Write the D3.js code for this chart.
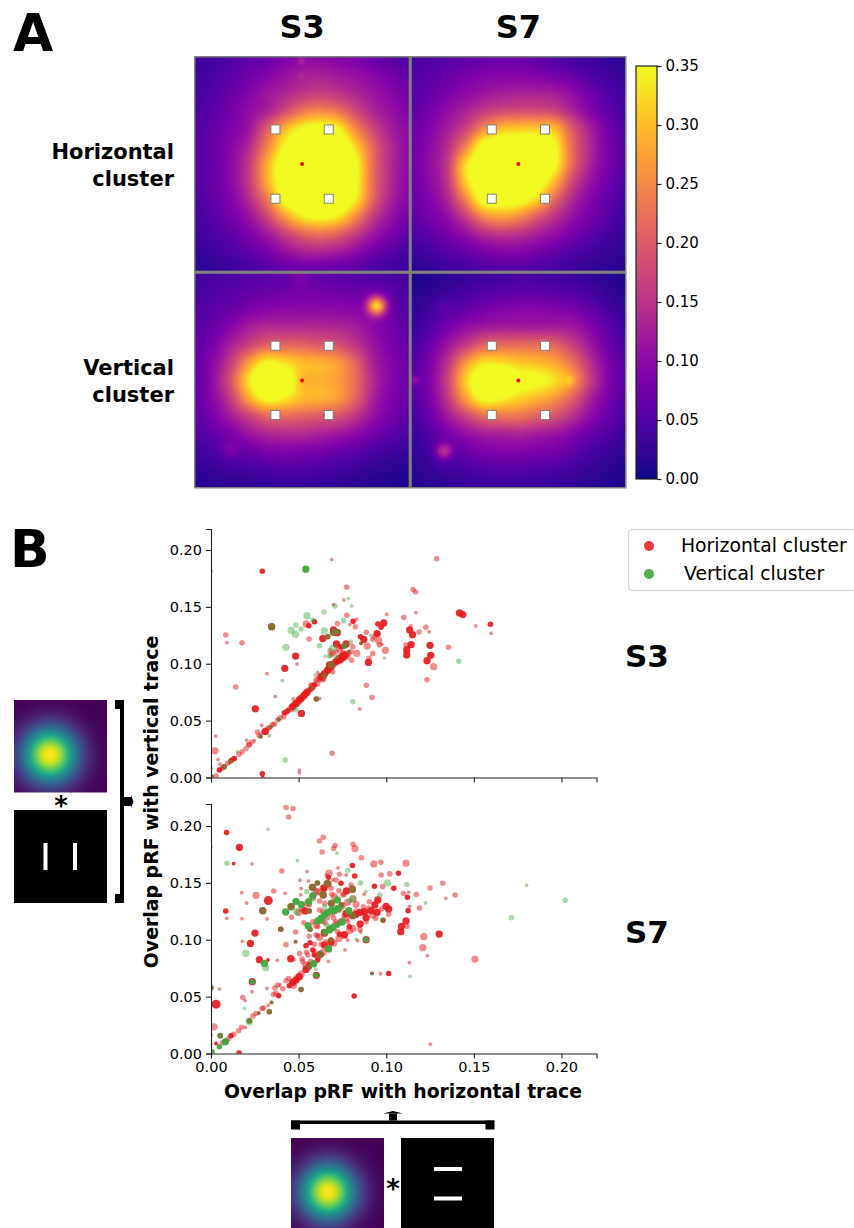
<!DOCTYPE html>
<html lang="en">
<head>
<meta charset="UTF-8">
<title>Overlap maps</title>
<style>
    body, html { margin: 0; background: #fff; overflow: hidden; }
    text { font-family: "DejaVu Sans", sans-serif; fill: #000; }
</style>
</head>
<body>
<script src="https://d3js.org/d3.v7.min.js"></script>
<script>
// overlap maps, 13x13 values, top row first
const mapS3Horizontal = [
  [.030,.036,.046,.06,.07,.085,.10,.10,.095,.085,.07,.055,.045],
  [.036,.045,.058,.075,.09,.11,.125,.13,.12,.11,.095,.08,.065],
  [.04,.052,.07,.09,.115,.135,.155,.165,.155,.135,.115,.095,.08],
  [.045,.06,.08,.105,.13,.18,.23,.25,.23,.18,.135,.11,.09],
  [.05,.065,.088,.115,.20,.29,.35,.37,.35,.25,.175,.125,.10],
  [.05,.07,.095,.14,.24,.35,.40,.42,.41,.32,.21,.14,.105],
  [.05,.07,.10,.16,.28,.39,.43,.44,.43,.36,.22,.14,.105],
  [.05,.07,.10,.16,.28,.39,.43,.44,.43,.36,.22,.14,.10],
  [.045,.065,.09,.14,.23,.36,.41,.42,.41,.34,.21,.13,.095],
  [.04,.055,.08,.11,.17,.26,.33,.35,.33,.25,.16,.11,.08],
  [.035,.045,.06,.085,.115,.16,.20,.22,.20,.16,.115,.085,.06],
  [.022,.032,.045,.06,.08,.105,.125,.13,.12,.10,.075,.055,.04],
  [.014,.022,.03,.04,.05,.06,.065,.065,.06,.055,.045,.035,.028]
];
const mapS7Horizontal = [
  [.04,.045,.052,.06,.065,.07,.07,.06,.05,.04,.03,.022,.018],
  [.05,.057,.068,.08,.09,.095,.095,.09,.08,.07,.05,.035,.025],
  [.055,.065,.085,.10,.115,.125,.13,.13,.125,.105,.075,.05,.035],
  [.06,.08,.105,.13,.16,.18,.185,.185,.175,.135,.095,.065,.04],
  [.07,.09,.125,.17,.25,.30,.31,.31,.30,.20,.13,.08,.05],
  [.075,.10,.145,.24,.37,.40,.40,.40,.36,.22,.14,.085,.055],
  [.08,.105,.16,.32,.40,.42,.42,.41,.36,.22,.135,.085,.055],
  [.075,.10,.155,.31,.40,.42,.42,.39,.30,.18,.115,.075,.05],
  [.07,.09,.135,.24,.37,.38,.37,.32,.22,.14,.095,.065,.04],
  [.06,.08,.105,.16,.24,.27,.25,.20,.15,.11,.08,.055,.035],
  [.045,.06,.08,.105,.135,.15,.145,.125,.105,.08,.06,.04,.028],
  [.028,.04,.052,.065,.08,.09,.09,.08,.065,.05,.038,.028,.02],
  [.016,.022,.03,.036,.045,.05,.05,.045,.04,.03,.022,.018,.014]
];
const mapS3Vertical = [
  [.035,.04,.045,.05,.055,.06,.065,.06,.055,.05,.045,.04,.035],
  [.04,.048,.055,.062,.07,.075,.08,.08,.075,.07,.07,.06,.045],
  [.048,.058,.07,.085,.095,.10,.10,.10,.10,.095,.085,.07,.05],
  [.055,.07,.095,.125,.14,.14,.14,.14,.135,.125,.10,.08,.06],
  [.06,.085,.13,.17,.21,.215,.21,.20,.19,.155,.115,.085,.065],
  [.065,.10,.165,.27,.35,.33,.30,.29,.27,.21,.13,.095,.07],
  [.065,.105,.195,.33,.44,.40,.30,.29,.27,.22,.14,.095,.075],
  [.065,.10,.165,.28,.36,.34,.30,.29,.27,.21,.13,.09,.07],
  [.06,.085,.125,.17,.215,.22,.21,.20,.19,.155,.11,.08,.06],
  [.05,.065,.085,.115,.135,.14,.14,.13,.12,.10,.08,.06,.045],
  [.035,.045,.055,.07,.085,.09,.085,.08,.07,.06,.045,.035,.028],
  [.02,.028,.035,.04,.045,.05,.05,.045,.04,.032,.024,.018,.014],
  [.012,.016,.018,.02,.022,.024,.024,.022,.02,.016,.012,.01,.009]
];
const mapS7Vertical = [
  [.008,.012,.018,.024,.03,.036,.04,.04,.035,.03,.022,.015,.01],
  [.012,.02,.03,.04,.05,.055,.06,.06,.055,.05,.04,.025,.015],
  [.02,.035,.05,.065,.08,.09,.095,.095,.09,.085,.065,.04,.025],
  [.03,.05,.08,.105,.12,.125,.125,.125,.125,.12,.095,.06,.035],
  [.04,.07,.115,.16,.21,.22,.22,.22,.21,.17,.12,.075,.045],
  [.05,.085,.15,.26,.33,.33,.31,.30,.28,.23,.15,.09,.055],
  [.055,.09,.17,.31,.40,.43,.37,.36,.33,.27,.17,.095,.06],
  [.05,.085,.155,.27,.36,.35,.32,.295,.265,.21,.135,.085,.05],
  [.04,.07,.12,.17,.22,.23,.23,.21,.19,.15,.105,.07,.042],
  [.03,.05,.08,.105,.125,.13,.135,.125,.115,.095,.07,.05,.03],
  [.022,.035,.05,.07,.085,.09,.09,.085,.08,.065,.045,.032,.02],
  [.016,.025,.035,.042,.05,.055,.055,.05,.045,.038,.028,.018,.012],
  [.012,.016,.02,.026,.03,.03,.03,.03,.026,.022,.016,.012,.01]
];
// small isolated spots the coarse grid can't hold: col, row, height, width (grid units)
const spotsS3Horizontal = [[5.96,.2,.03,.14],[5.96,1,.015,.14]];
const spotsS7Horizontal = [];
const spotsS3Vertical = [[10.2,1.8,.24,.36],[1.95,9.9,.03,.35],[5.96,.2,.02,.3]];
const spotsS7Vertical = [[1.8,10,.10,.34],[.15,6,.05,.2],[1.8,1.8,.015,.3],[8.9,6,.03,.2]];

const colorbarTicks = [0, .05, .10, .15, .20, .25, .30, .35];
// stimulus squares and fixation, in degrees from the map centre
const stimulusX = [-2, 2];
const stimulusY = [-2.6, 2.6];

// scatter points: x overlap, y overlap, size class 1-4
const s3RedStrong = [[.0293,.1813,2],[.0253,.0604,3],[.0483,.1068,3],[.0421,.0960,3],[.0516,.0563,3],[.0310,.0405,3],[.0558,.1335,2],[.0590,.1370,2],[.0638,.1221,3],[.0811,.1373,2],[.0721,.1273,3],[.0699,.1297,3],[.0716,.1174,3],[.0971,.1320,2],[.0948,.1265,3],[.0986,.1359,3],[.0952,.1350,2],[.0853,.1238,2],[.0872,.1215,3],[.1134,.1297,3],[.1150,.1256,3],[.1142,.1168,3],[.1117,.1121,3],[.1117,.1077,3],[.1250,.1162,3],[.1254,.1074,3],[.1233,.1027,3],[.0898,.1012,3],[.1418,.1447,3],[.1437,.1432,3],[.1595,.1347,2],[.0293,.0032,2],[.0295,0,1],[.0048,.0065,2],[.0114,.0147,2],[.0133,.0167,2],[.0285,.0358,1],[.0419,.0569,2],[.0438,.0587,2],[.0466,.0622,3],[.0485,.0651,3],[.0504,.0681,3],[.0514,.0695,3],[.0533,.0725,3],[.0546,.0745,3],[.0571,.0778,2],[.0590,.0813,2],[.0628,.0886,3],[.0647,.0910,3],[.0666,.0945,3],[.0685,.0974,3],[.0714,.1018,3],[.0733,.1039,4],[.0752,.1062,4],[.0767,.1077,3],[.0742,.1150,2],[.0771,.1174,3],[.0676,.0989,3]];
const s3RedPale = [[0,.1813,1],[.0689,.1916,1],[.1287,.1922,2],[.0775,.1673,2],[.1153,.1652,2],[.1167,.1631,2],[.0699,.1520,1],[.0758,.1561,1],[.1003,.1435,1],[.1100,.1406,2],[.1169,.1450,1],[.1511,.1332,1],[.1599,.1268,1],[.0830,.1391,1],[.0775,.1426,2],[.0721,.1353,2],[.0544,.1350,3],[.0792,.1344,1],[.0824,.1326,2],[.0887,.1276,2],[.1140,.1335,1],[.1188,.1279,2],[.1226,.1320,2],[.1245,.1282,1],[.0084,.1253,2],[.0091,.1185,1],[.0177,.1185,2],[.0560,.1218,2],[.0923,.1215,2],[.0957,.1203,3],[.0975,.1171,1],[.0891,.1156,3],[.0995,.1118,3],[.0832,.1092,3],[.0923,.1089,2],[.0902,.1048,2],[.0803,.1030,2],[.1355,.1144,2],[.1271,.0974,3],[.1233,.0860,2],[.0491,.0998,1],[.0320,.0913,1],[.0141,.0795,2],[.0367,.0713,1],[.0887,.0810,2],[.0919,.0704,2],[.0849,.0602,1],[.0470,.0690,1],[.0289,.0458,1],[.0027,.0364,1],[.0204,.0329,1],[.0266,.0399,2],[.0023,.0235,3],[.0040,.0158,1],[.0051,.0117,1],[.0691,.0214,2],[.0504,.0065,1],[.0504,.0041,1],[0,.0079,1],[0,.0021,1],[.0029,.0012,2],[.0620,.0695,1],[.0600,.0857,2],[.0609,.0921,1],[.0571,.0813,2],[.0638,.0857,2],[.0695,.0930,2],[.0219,.0285,2],[.0200,.0255,2],[.0177,.0226,2],[.0247,.0323,1],[.0333,.0440,2],[.0362,.0469,2],[.0381,.0505,2],[.0415,.0534,2],[.0105,.0129,1],[.0067,.0088,1],[.0561,.0769,2],[.0685,.1077,2],[.0714,.1106,2],[.0809,.1150,2],[.0799,.1106,2],[.0780,.1062,2],[.0695,.1092,2],[.0961,.1165,2],[.0933,.1238,2],[.1113,.1165,2]];
const s3RedRidge = [[.0062,.0082,2],[.0095,.0125,2],[.0125,.0160,2],[.0160,.0205,2],[.0215,.0290,2],[.0232,.0312,2],[.0275,.0370,2],[.0300,.0395,2],[.0325,.0430,2],[.0352,.0468,2],[.0395,.0525,2],[.0430,.0570,2],[.0455,.0605,3],[.0478,.0640,3],[.0498,.0665,3],[.0525,.0710,3],[.0555,.0760,3],[.0580,.0800,3],[.0605,.0830,3],[.0618,.0870,3],[.0640,.0880,3],[.0655,.0925,3],[.0675,.0960,3],[.0695,.0990,3],[.0725,.1030,3],[.0745,.1045,3],[.0705,.1010,3],[.0755,.1090,3],[.0735,.1130,3],[.0680,.1115,2],[.0785,.1090,2]];
const s3Both = [[.0346,.1326,3],[.0601,.0690,2],[.0699,.1276,3],[.0723,.1282,2],[.0666,.1238,2],[.0856,.1180,1],[.0761,.1156,2],[.0786,.1106,1],[.0647,.0892,2],[.0685,.0989,3],[.0581,.0783,1],[.0386,.0511,1],[.0343,.0446,1],[.0282,.0364,1],[.0114,.0141,1],[.0076,.0094,2],[0,.0006,2]];
const s3GreenPale = [[.0784,.1573,1],[.0803,.1508,1],[.0708,.1508,2],[.0645,.1455,2],[.0548,.1423,3],[.0581,.1385,2],[.0756,.1379,2],[.0485,.1341,2],[.0457,.1294,3],[.0482,.1259,3],[.0514,.1306,2],[.0647,.1288,3],[.0428,.1144,3],[.0619,.1159,2],[.0695,.1136,3],[.0796,.1188,2],[.0761,.1162,2],[.0676,.1068,2],[.0651,.1065,1],[.0594,.0901,1],[.0407,.0851,1],[.0809,.0666,2],[.0485,.0593,2],[.0333,.0367,1],[.0150,.0226,1],[.0424,.0153,2],[.0990,.1050,1],[.1414,.1021,2],[.0912,.1250,1],[.0714,.1062,2]];
const s3GreenStrong = [[.0541,.1831,3]];

const s7RedStrong = [[.0089,.1942,2],[.0162,.1813,3],[.0129,.1670,1],[.0807,.1652,2],[.0820,.1561,2],[.0327,.1344,4],[.0084,.1253,2],[.0742,.1496,2],[.0645,.1455,3],[.0670,.1549,2],[.0773,.1429,3],[.0933,.1470,2],[.1043,.1452,2],[.1070,.1585,2],[.1121,.1373,2],[.1125,.1256,2],[.0251,.1059,3],[.0225,.0968,3],[.0276,.0825,3],[.0325,.0822,1],[.0455,.0833,3],[.1302,.1050,3],[.1014,.0704,2],[.0817,.0505,2],[.0029,.0434,4],[.1087,.1118,3],[.1113,.1165,3],[.1083,.1071,3],[.0999,.1294,3],[.1014,.1271,3],[.0952,.1350,3],[.0935,.1306,3],[.0948,.1241,3],[.0914,.1256,3],[.0876,.1247,3],[.0851,.1241,3],[.0828,.1224,3],[.0885,.1194,3],[.0851,.1138,3],[.0771,.1232,3],[.0761,.1042,3],[.0733,.1048,2],[.0790,.1115,2],[.0537,.1253,3],[.0386,.0508,2],[.0162,0,2],[.0029,.0088,1],[.0114,.0156,2],[.0086,.0109,2],[.0485,.0646,3],[.0466,.0625,3],[.0504,.0675,3],[.0447,.0596,2],[.0542,.0739,3],[.0561,.0778,2],[.0609,.0822,2],[.0628,.0871,2],[.0590,.0866,2],[.0581,.0910,2],[.0542,.0948,2],[.0565,.0974,2],[.0685,.0983,3],[.0647,.0954,3],[.0590,.0792,2],[.0885,.1001,3],[.0601,.0687,3],[.0236,.0631,3],[.0333,.0367,2]];
const s7RedPale = [[.0428,.2163,2],[.0468,.2154,2],[.0443,.2080,2],[.0641,.1901,2],[.0619,.1869,2],[.0708,.1828,2],[.0700,.1802,2],[.0634,.1772,2],[.0811,.1840,2],[.0822,.1802,3],[.0858,.1720,2],[.0929,.1667,3],[.0969,.1681,2],[.1113,.1673,3],[.0234,.1667,1],[.0404,.1605,2],[.0548,.1599,1],[.0508,.1523,1],[.0556,.1517,1],[.0674,.1585,3],[.0733,.1576,2],[.0771,.1570,1],[.1020,.1579,2],[.0971,.1570,2],[.0175,.1414,1],[.0257,.1391,3],[.0358,.1429,2],[.0423,.1408,1],[.0204,.1323,1],[.0514,.1450,1],[.0512,.1394,1],[.0091,.1188,1],[.0177,.1185,1],[.0320,.1183,1],[.0459,.1197,2],[.0483,.1068,2],[.0179,.0986,1],[.0428,.0957,2],[.0379,.0819,1],[.0476,.0825,1],[.0320,.0572,1],[.0234,.0543,1],[.0048,.0566,1],[.0181,.0493,2],[.0194,.0467,1],[.0017,.0235,3],[0,.0161,1],[.0158,.0200,2],[.0196,.0229,1],[.0219,.0293,2],[.0257,.0352,2],[.0291,.0396,2],[.0327,.0425,1],[.0356,.0519,2],[.0381,.0602,2],[.0394,.0602,1],[.0365,.0578,2],[.0428,.0640,2],[.0443,.0660,2],[.1323,.1496,2],[.1250,.1455,2],[.1393,.1394,2],[.1172,.1397,2],[.1340,.1364,1],[.1098,.1406,2],[.1129,.1417,1],[.1190,.1279,2],[.1134,.1294,1],[.1214,.1027,3],[.1209,.0930,3],[.1235,.0860,1],[.1132,.0798,1],[.1506,.0830,3],[.1252,.0082,1],[.0967,.0701,1],[.0765,.0910,1],[.0670,.0810,1],[.0855,.1068,1],[.0837,.0992,1],[.0780,.0998,1],[.1014,.1224,2],[.0980,.1467,2],[.0874,.1400,1],[.0647,.1056,3],[.0609,.1036,2],[.0628,.0960,2],[.0657,.0983,2],[.0609,.1115,2],[.0600,.1042,2],[.0723,.1071,2],[.0704,.1379,3],[.0752,.1394,2],[.0828,.1312,3],[.0904,.1335,2],[.0885,.1159,2],[.0923,.1218,3],[.0714,.1159,2],[.0733,.1262,2],[.0780,.1159,2],[.0799,.1482,2],[.0685,.1452,2],[.0714,.1526,2],[.0600,.1423,3],[.0561,.1306,2],[.0638,.1247,2],[.0581,.1159,2],[.0619,.1262,2],[.0542,.0778,3],[.0523,.0807,2],[.0552,.0866,2],[.0590,.0895,2],[.0676,.0910,2],[.0695,.1526,1],[.0725,.1631,1],[.0657,.1570,1],[.1119,.1118,2],[.0158,.0009,2]];
const s7RedRidge = [[.0065,.0095,2],[.0100,.0130,2],[.0130,.0170,2],[.0175,.0230,2],[.0240,.0330,2],[.0300,.0400,2],[.0370,.0530,2],[.0410,.0570,2],[.0470,.0600,3],[.0490,.0660,3],[.0515,.0700,3],[.0555,.0760,3],[.0570,.0800,3],[.0610,.0850,3],[.0640,.0890,3],[.0670,.0930,3],[.0700,.0970,3],[.0730,.1010,3],[.0760,.1045,3],[.0790,.1080,3],[.0810,.1100,3],[.0620,.1020,3],[.0650,.1060,3],[.0680,.1100,3],[.0710,.1130,3],[.0740,.1160,3],[.0770,.1190,3],[.0800,.1220,3],[.0830,.1245,3],[.0600,.1130,3],[.0630,.1170,3],[.0660,.1200,3],[.0690,.1235,3],[.0720,.1270,3],[.0750,.1300,3],[.0780,.1330,3],[.0810,.1360,3],[.0500,.1240,3],[.0520,.1270,3],[.0550,.1320,3],[.0580,.1370,3],[.0610,.1420,3],[.0640,.1450,3],[.0670,.1490,3],[.0530,.1150,2],[.0560,.1030,2],[.0590,.0960,2],[.0545,.0890,2],[.0505,.0880,2],[.0520,.0830,2],[.0870,.1290,2],[.0900,.1280,2],[.0940,.1190,2],[.0975,.1270,2],[.0850,.1090,2],[.0760,.1400,2],[.0730,.1430,2],[.0690,.1400,2],[.0650,.1320,2],[.0620,.1340,2],[.0700,.1190,2],[.0760,.1210,2],[.0650,.1150,2]];
const s7Both = [[.0295,.1256,3],[.0457,.1291,3],[.0579,.1461,3],[.0640,.1394,3],[.0664,.1494,3],[.0807,.1444,3],[.0607,.1499,2],[.0687,.1320,3],[.0565,.1092,2],[.0744,.1306,2],[.0809,.1212,3],[.0982,.1171,2],[.0398,.1092,2],[.0483,.0983,1],[.0919,.0704,1],[.0514,.0563,2],[.0272,.0355,1],[.0346,.0449,1],[.0053,.0156,2],[0,.0578,2],[.0561,.1253,2],[.0647,.1065,3],[.0685,.0998,2],[.0622,.0871,3],[.0561,.0763,2],[.0219,.0285,2]];
const s7GreenPale = [[0,.1813,1],[.0325,.1972,1],[.0091,.1673,2],[.0493,.1696,1],[.0719,.1761,1],[.0782,.1611,2],[.0853,.1499,2],[.1007,.1499,3],[.1117,.1485,2],[.0546,.1423,2],[.0883,.1423,1],[.1224,.1323,1],[.0963,.1394,2],[.1801,.1479,1],[.2021,.1347,2],[.1715,.1194,2],[.0489,.1247,3],[.0647,.1291,2],[.0809,.1359,3],[.0790,.1341,2],[.0695,.1247,2],[.0198,.0880,3],[.0312,.0754,3],[.0598,.0742,1],[.0830,.1004,1],[.1136,.0678,1],[.0190,.0396,1],[.0219,.0279,3],[.0051,.0161,2],[0,.0088,1],[.0742,.1276,2],[.0628,.1174,3],[.0660,.1130,2]];
const s7GreenStrong = [[.0426,.1244,3],[.0485,.1338,3],[.0516,.1309,3],[.0558,.1335,3],[.0581,.1388,3],[.0721,.1350,3],[.0689,.1262,3],[.0723,.1276,3],[.0704,.1256,3],[.0666,.1241,3],[.0647,.1218,3],[.0628,.1188,3],[.0609,.1165,3],[.0554,.1124,3],[.0748,.1156,3],[.0723,.1130,2],[.0695,.1106,3],[.0676,.1086,3],[.0653,.1065,2],[.0786,.1256,3],[.0670,.0921,3],[.0586,.0789,3],[.0305,.0792,3],[.0600,.0687,2],[.0333,.0367,1],[.0082,.0103,3],[.0048,.0059,2],[.0006,.0015,2],[.0885,.1001,2],[.0236,.0631,2]];

const axisTicks = [0, .05, .10, .15, .20];
const subjects = ["S3", "S7"];
const clusters = ["Horizontal cluster", "Vertical cluster"];

const width = 854, height = 1228;
const red = "#e41a1c", green = "#3fa93c";

const svg = d3.select("body").append("svg")
    .attr("width", width)
    .attr("height", height)
    .style("display", "block");

const defs = svg.append("defs");

// ---------- panel A ----------
const plasma = d3.scaleSequential(d3.interpolatePlasma).domain([0, 0.35]).clamp(true);

// catmull-rom, what imshow's bicubic does to the grid
function cubic(a, b, c, d, t) {
    return b + 0.5 * t * (c - a + t * (2 * a - 5 * b + 4 * c - d + t * (3 * (b - c) + d - a)));
}

function sampleGrid(grid, spots, gx, gy) {
    const n = grid.length - 1;
    const at = (r, c) => grid[Math.max(0, Math.min(n, r))][Math.max(0, Math.min(n, c))];
    const c0 = Math.min(n - 1, Math.floor(gx)), r0 = Math.min(n - 1, Math.floor(gy));
    const tx = gx - c0, ty = gy - r0;
    const rows = [-1, 0, 1, 2].map(dr => cubic(at(r0 + dr, c0 - 1), at(r0 + dr, c0), at(r0 + dr, c0 + 1), at(r0 + dr, c0 + 2), tx));
    let v = cubic(rows[0], rows[1], rows[2], rows[3], ty);
    spots.forEach(([sx, sy, amp, w]) => {
        v += amp * Math.exp(-((gx - sx) ** 2 + (gy - sy) ** 2) / (2 * w * w));
    });
    return v;
}

function mapImage(grid, spots, w, h) {
    const canvas = document.createElement("canvas");
    canvas.width = w;
    canvas.height = h;
    const ctx = canvas.getContext("2d");
    const n = grid.length - 1;
    for (let y = 0; y < h; y++) {
        for (let x = 0; x < w; x++) {
            ctx.fillStyle = plasma(sampleGrid(grid, spots, (x + 0.5) / w * n, (y + 0.5) / h * n));
            ctx.fillRect(x, y, 1, 1);
        }
    }
    return canvas.toDataURL();
}

const mapX = d3.scaleBand().domain(subjects).range([195.5, 625]).paddingInner(0.0145);
const mapY = d3.scaleBand().domain(clusters).range([57.5, 487]).paddingInner(0.0145);

svg.append("rect")
    .attr("x", 194)
    .attr("y", 56)
    .attr("width", 432.5)
    .attr("height", 432.5)
    .attr("fill", "#808080");

const maps = [
    { subject: "S3", cluster: clusters[0], grid: mapS3Horizontal, spots: spotsS3Horizontal },
    { subject: "S7", cluster: clusters[0], grid: mapS7Horizontal, spots: spotsS7Horizontal },
    { subject: "S3", cluster: clusters[1], grid: mapS3Vertical, spots: spotsS3Vertical },
    { subject: "S7", cluster: clusters[1], grid: mapS7Vertical, spots: spotsS7Vertical }
];

maps.forEach(m => {
    const x0 = mapX(m.subject), y0 = mapY(m.cluster), w = mapX.bandwidth(), h = mapY.bandwidth();
    const g = svg.append("g");
    g.append("image")
        .attr("x", x0).attr("y", y0)
        .attr("width", w).attr("height", h)
        .attr("preserveAspectRatio", "none")
        .attr("href", mapImage(m.grid, m.spots, Math.round(w), Math.round(h)));

    const deg = d3.scaleLinear().domain([-8, 8]);
    const dx = deg.copy().range([x0, x0 + w]);
    const dy = deg.copy().range([y0, y0 + h]);
    stimulusX.forEach(sx => stimulusY.forEach(sy => {
        g.append("rect")
            .attr("x", dx(sx) - 4.5)
            .attr("y", dy(sy) - 4.5)
            .attr("width", 9).attr("height", 9)
            .attr("fill", "#fff")
            .attr("stroke", "#777")
            .attr("stroke-width", 0.9);
    }));
    g.append("circle")
        .attr("cx", dx(0)).attr("cy", dy(0))
        .attr("r", 2)
        .attr("fill", "#f00");
});

subjects.forEach(s => {
    svg.append("text")
        .attr("x", mapX(s) + mapX.bandwidth() / 2)
        .attr("y", 38)
        .attr("text-anchor", "middle")
        .attr("font-weight", "bold")
        .attr("font-size", 32)
        .text(s);
});

[["Horizontal", "cluster", 159], ["Vertical", "cluster", 375]].forEach(([a, b, y]) => {
    [a, b].forEach((t, i) => {
        svg.append("text")
            .attr("x", 174)
            .attr("y", y + i * 27)
            .attr("text-anchor", "end")
            .attr("font-weight", "bold")
            .attr("font-size", 21)
            .text(t);
    });
});

// colorbar
const cbar = d3.scaleLinear().domain([0, 0.35]).range([479, 66]);
const cbarGrad = defs.append("linearGradient")
    .attr("id", "cbar")
    .attr("x1", 0).attr("y1", 1).attr("x2", 0).attr("y2", 0);
d3.range(0, 1.01, 0.05).forEach(t => {
    cbarGrad.append("stop")
        .attr("offset", t)
        .attr("stop-color", d3.interpolatePlasma(t));
});
svg.append("rect")
    .attr("x", 636).attr("y", 66)
    .attr("width", 21).attr("height", 413)
    .attr("fill", "url(#cbar)")
    .attr("stroke", "#222")
    .attr("stroke-width", 1.2);
svg.append("g")
    .attr("transform", "translate(657,0)")
    .call(d3.axisRight(cbar).tickValues(colorbarTicks).tickFormat(d3.format(".2f")).tickSize(4.5).tickPadding(4))
    .call(g => g.select(".domain").remove())
    .call(g => g.selectAll("line").attr("stroke", "#222").attr("stroke-width", 1.2))
    .call(g => g.selectAll("text").attr("font-size", 15).attr("font-family", "DejaVu Sans"));

// panel letters
[["A", 13, 51], ["B", 10, 567]].forEach(([t, x, y]) => {
    svg.append("text")
        .attr("x", x).attr("y", y)
        .attr("font-weight", "bold")
        .attr("font-size", 52)
        .text(t);
});

// ---------- panel B ----------
const x = d3.scaleLinear().domain([0, 0.22]).range([211, 596.5]);
const sizeScale = d3.scaleLinear().domain([1, 4]).range([1.9, 4.5]);

const scatters = [
    {
        subject: "S3", range: [777.5, 527.5], top: 529,
        redPale: s3RedPale, redRidge: s3RedRidge, redStrong: s3RedStrong, both: s3Both, greenPale: s3GreenPale, greenStrong: s3GreenStrong
    },
    {
        subject: "S7", range: [1053.5, 804], top: 804,
        redPale: s7RedPale, redRidge: s7RedRidge, redStrong: s7RedStrong, both: s7Both, greenPale: s7GreenPale, greenStrong: s7GreenStrong
    }
];

scatters.forEach((p, i) => {
    const y = d3.scaleLinear().domain([0, (p.range[0] - p.top) / 1137.5]).range([p.range[0], p.top]);
    const g = svg.append("g");
    const clipId = "clip" + p.subject;
    defs.append("clipPath").attr("id", clipId)
        .append("rect")
        .attr("x", x(0)).attr("y", y.range()[1])
        .attr("width", x(0.22) - x(0))
        .attr("height", y.range()[0] - y.range()[1]);

    const marks = g.append("g").attr("clip-path", `url(#${clipId})`);
    const layer = (data, color, alpha) => {
        marks.append("g").selectAll("circle")
            .data(data)
            .join("circle")
            .attr("cx", d => x(d[0]))
            .attr("cy", d => y(d[1]))
            .attr("r", d => sizeScale(d[2]))
            .attr("fill", color)
            .attr("fill-opacity", alpha);
    };
    layer(p.redPale, red, 0.5);
    layer(p.redRidge, red, 0.5);
    layer(p.redStrong, red, 0.92);
    layer(p.both, red, 0.92);
    layer(p.both, green, 0.55);
    layer(p.greenPale, green, 0.45);
    layer(p.greenStrong, green, 0.95);

    const xAxis = d3.axisBottom(x).tickValues(axisTicks).tickSize(5).tickPadding(3);
    xAxis.tickFormat(i === 1 ? d3.format(".2f") : "");
    const yAxis = d3.axisLeft(y).tickValues(axisTicks).tickFormat(d3.format(".2f")).tickSize(5).tickPadding(4);

    g.append("g")
        .attr("transform", `translate(0,${y(0)})`)
        .call(xAxis)
        .call(styleAxis);
    g.append("g")
        .attr("transform", `translate(${x(0)},0)`)
        .call(yAxis)
        .call(styleAxis);
});

function styleAxis(g) {
    g.select(".domain").attr("stroke", "#222").attr("stroke-width", 1.1);
    g.selectAll("line").attr("stroke", "#222").attr("stroke-width", 1.1);
    g.selectAll("text").attr("font-size", 14.5).attr("font-family", "DejaVu Sans");
}

[["S3", 667], ["S7", 943]].forEach(([t, y]) => {
    svg.append("text")
        .attr("x", 625).attr("y", y)
        .attr("font-weight", "bold")
        .attr("font-size", 31)
        .text(t);
});

svg.append("text")
    .attr("x", 403).attr("y", 1098)
    .attr("text-anchor", "middle")
    .attr("font-weight", "bold")
    .attr("font-size", 18.8)
    .text("Overlap pRF with horizontal trace");
svg.append("text")
    .attr("transform", "translate(157.5,802) rotate(-90)")
    .attr("text-anchor", "middle")
    .attr("font-weight", "bold")
    .attr("font-size", 18.9)
    .text("Overlap pRF with vertical trace");

// legend
svg.append("rect")
    .attr("x", 628.5).attr("y", 529.5)
    .attr("width", 240).attr("height", 61)
    .attr("rx", 4)
    .attr("fill", "#fff")
    .attr("stroke", "#d8d8d8")
    .attr("stroke-width", 1.2);
[[clusters[0], 681, 552, "#ec3a3c", 546], [clusters[1], 684, 579.5, "#4fb04c", 574]].forEach(([t, tx, ty, c, cy]) => {
    svg.append("circle").attr("cx", 649).attr("cy", cy).attr("r", 5).attr("fill", c);
    svg.append("text")
        .attr("x", tx).attr("y", ty)
        .attr("font-size", 18.8)
        .text(t);
});

// ---------- pRF * stimulus schematics ----------
function prfGradient(id, cx, cy) {
    const grad = defs.append("radialGradient")
        .attr("id", id)
        .attr("gradientUnits", "userSpaceOnUse")
        .attr("cx", cx).attr("cy", cy).attr("r", 62);
    d3.range(0, 1.01, 0.05).forEach(t => {
        grad.append("stop")
            .attr("offset", t)
            .attr("stop-color", d3.interpolateViridis(Math.exp(-t * t * 62 * 62 / (2 * 19 * 19))));
    });
}
prfGradient("prfV", 50, 755);
prfGradient("prfH", 328, 1192);

const blackRect = (xx, yy, w, h, fill) => svg.append("rect")
    .attr("x", xx).attr("y", yy).attr("width", w).attr("height", h)
    .attr("fill", fill || "#000");
const star = (xx, yy) => svg.append("text")
    .attr("x", xx).attr("y", yy)
    .attr("text-anchor", "middle")
    .attr("font-weight", "bold")
    .attr("font-size", 26)
    .text("*");

// left one
blackRect(14, 700, 93, 92.5, "url(#prfV)");
blackRect(14, 810, 93, 93);
blackRect(43.5, 843, 4, 27, "#fff");
blackRect(73, 843, 4, 27, "#fff");
star(61, 815);
blackRect(120, 700, 4, 203);
blackRect(115, 700, 9, 9);
blackRect(115, 894, 9, 9);
blackRect(124, 797, 7, 9);
svg.append("path").attr("d", d3.line()([[131, 795], [133.5, 801.5], [131, 808]])).attr("fill", "#000");

// bottom one
blackRect(291, 1138, 93, 90, "url(#prfH)");
blackRect(401, 1138, 93, 90);
blackRect(434, 1167, 28, 4, "#fff");
blackRect(434, 1196.5, 28, 4, "#fff");
star(393, 1198);
blackRect(291, 1120.5, 203, 3.5);
blackRect(291, 1120.5, 9, 9);
blackRect(485.5, 1120.5, 9, 9);
blackRect(389, 1113.5, 8, 7);
svg.append("path").attr("d", d3.line()([[383, 1113.5], [393, 1111], [403, 1113.5]])).attr("fill", "#000");
</script>
</body>
</html>
